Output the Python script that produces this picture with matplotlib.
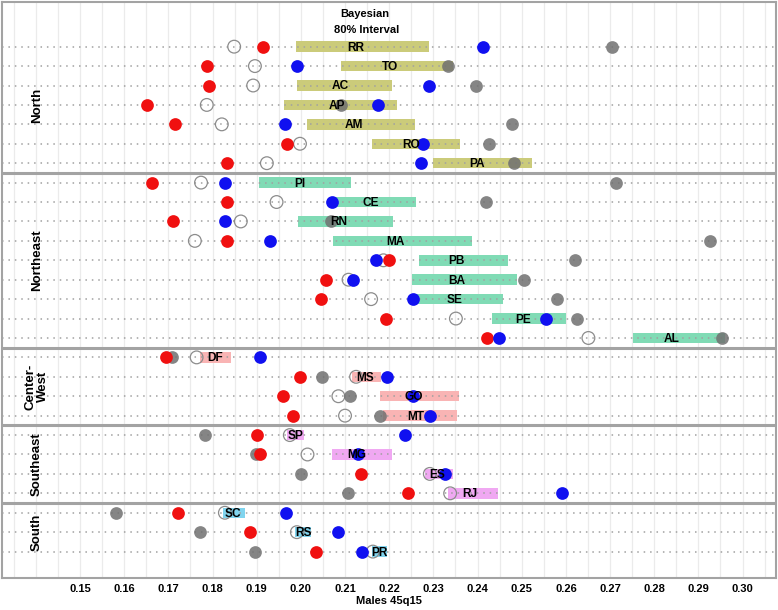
import matplotlib
matplotlib.use("Agg")
import matplotlib.pyplot as plt
import numpy as np

plt.rcParams['font.family'] = ['Liberation Sans', 'DejaVu Sans']

# ---------------- data ----------------
states = ["RR", "TO", "AC", "AP", "AM", "RO", "PA",
          "PI", "CE", "RN", "MA", "PB", "BA", "SE", "PE", "AL",
          "DF", "MS", "GO", "MT",
          "SP", "MG", "ES", "RJ",
          "SC", "RS", "PR"]
regions = ["North"] * 7 + ["Northeast"] * 9 + ["Center-West"] * 4 + ["Southeast"] * 4 + ["South"] * 3
region_names = ["North", "Northeast", "Center-West", "Southeast", "South"]
region_labels = ["North", "Northeast", "Center-\nWest", "Southeast", "South"]
region_colors = ["#cbcb7a", "#80dbb5", "#f9b4b4", "#f0a8f2", "#80d4ee"]

# Bayesian 80% interval and median
ci_low = [0.1989, 0.2092, 0.1991, 0.1962, 0.2015, 0.2160, 0.2299,
          0.1906, 0.2073, 0.1993, 0.2073, 0.2268, 0.2252, 0.2253, 0.2432, 0.2751,
          0.1772, 0.2115, 0.2179, 0.2187,
          0.1968, 0.2070, 0.2280, 0.2334,
          0.1824, 0.1987, 0.2160]
ci_high = [0.2291, 0.2344, 0.2206, 0.2218, 0.2258, 0.2360, 0.2523,
           0.2113, 0.2260, 0.2208, 0.2388, 0.2468, 0.2489, 0.2457, 0.2600, 0.2960,
           0.1841, 0.2181, 0.2358, 0.2353,
           0.2007, 0.2206, 0.2344, 0.2446,
           0.1874, 0.2023, 0.2196]
bayes_median = [0.2125, 0.2202, 0.2089, 0.2081, 0.2119, 0.2249, 0.2400,
                0.1998, 0.2158, 0.2085, 0.2213, 0.2353, 0.2354, 0.2347, 0.2504, 0.2840,
                0.1806, 0.2145, 0.2255, 0.2260,
                0.1987, 0.2126, 0.2309, 0.2383,
                0.1847, 0.2006, 0.2179]
# other estimates
open_est = [0.1849, 0.1896, 0.1892, 0.1787, 0.1821, 0.1998, 0.1923,
            0.1774, 0.1945, 0.1864, 0.1760, 0.2187, 0.2108, 0.2159, 0.2351, 0.2651,
            0.1764, 0.2125, 0.2085, 0.2100,
            0.1975, 0.2015, 0.2292, 0.2338,
            0.1828, 0.1991, 0.2163]
red_est = [0.1915, 0.1787, 0.1793, 0.1652, 0.1715, 0.1968, 0.1832,
           0.1663, 0.1832, 0.1711, 0.1832, 0.2200, 0.2056, 0.2046, 0.2192, 0.2422,
           0.1694, 0.1998, 0.1959, 0.1983,
           0.1900, 0.1908, 0.2136, 0.2243,
           0.1721, 0.1885, 0.2034]
blue_est = [0.2412, 0.1992, 0.2289, 0.2175, 0.1963, 0.2276, 0.2272,
            0.1828, 0.2071, 0.1828, 0.1930, 0.2170, 0.2117, 0.2253, 0.2555, 0.2449,
            0.1908, 0.2194, 0.2255, 0.2292,
            0.2236, 0.2129, 0.2326, 0.2591,
            0.1966, 0.2083, 0.2138]
grey_est = [0.2704, 0.2334, 0.2396, 0.2090, 0.2479, 0.2427, 0.2483,
            0.2713, 0.2419, 0.2068, 0.2926, 0.2621, 0.2506, 0.2579, 0.2626, 0.2954,
            0.1709, 0.2048, 0.2111, 0.2179,
            0.1783, 0.1898, 0.2000, 0.2106,
            0.1582, 0.1772, 0.1896]

x_ticks = [0.15, 0.16, 0.17, 0.18, 0.19, 0.20, 0.21, 0.22, 0.23, 0.24, 0.25, 0.26, 0.27, 0.28, 0.29, 0.30]
x_label = "Males 45q15"
title_lines = ["Bayesian", "80% Interval"]

# ---------------- plot ----------------
fig = plt.figure(figsize=(7.78, 6.10), dpi=100)
ax = fig.add_axes([2 / 778, 32 / 610, 774 / 778, 576 / 610])

n = len(states)
ypos = np.arange(n)
xmin, xmax = 0.13234, 0.30757
ax.set_xlim(xmin, xmax)
ax.set_ylim(27.36, -2.30)

# vertical grid every 0.005
for gx in np.arange(0.135, 0.3076, 0.005):
    ax.axvline(gx, color="#ebebeb", lw=0.9, zorder=0)

# bars (80% interval)
bar_h = 0.54
for i in range(n):
    c = region_colors[region_names.index(regions[i])]
    ax.add_patch(plt.Rectangle((ci_low[i], ypos[i] - bar_h / 2), ci_high[i] - ci_low[i], bar_h,
                               facecolor=c, edgecolor="none", zorder=1))

# dotted row lines
for i in range(n):
    ax.plot([xmin, xmax], [ypos[i], ypos[i]], color="#a0a0a0", lw=1.1,
            ls=(0, (1, 3.2)), zorder=2)

# group separators
counts = [regions.count(r) for r in region_names]
bounds = np.cumsum(counts)
for b in bounds[:-1]:
    ax.axhline(b - 0.5, color="#a3a3a3", lw=2.2, zorder=3)

ms = 84
ax.scatter(open_est, ypos, s=ms, facecolors="none", edgecolors="#8c8c8c", linewidths=0.9, zorder=4)
ax.scatter(grey_est, ypos, s=ms, color="#707070", alpha=0.85, linewidths=0, zorder=4)
ax.scatter(red_est, ypos, s=ms, color="#f01010", linewidths=0, zorder=5)
ax.scatter(blue_est, ypos, s=ms, color="#1010f0", linewidths=0, zorder=5)

# state labels
for i in range(n):
    ax.text(bayes_median[i], ypos[i] + 0.05, states[i], ha="center", va="center",
            fontsize=8.6, fontweight="bold", color="black", zorder=6)

# region labels
start = 0
for name, lab, cnt in zip(region_names, region_labels, counts):
    mid = start + (cnt - 1) / 2
    ax.text(0.1402, mid, lab, rotation=90, ha="center", va="center",
            fontsize=9.5, fontweight="bold", linespacing=1.05, zorder=6)
    start += cnt

# title annotation
ax.text(0.2145, -1.68, title_lines[0], ha="center", va="center", fontsize=8, fontweight="bold")
ax.text(0.2149, -0.86, title_lines[1], ha="center", va="center", fontsize=8, fontweight="bold")

ax.set_yticks([])
ax.set_xticks(x_ticks)
ax.set_xticklabels([f"{t:.2f}" for t in x_ticks], fontsize=8, fontweight="bold")
ax.tick_params(axis="x", length=0, pad=4)
ax.set_xlabel(x_label, fontsize=8, fontweight="bold", labelpad=2)
for sp in ax.spines.values():
    sp.set_color("#a3a3a3")
    sp.set_linewidth(1.5)

fig.savefig("out.png", dpi=100)
